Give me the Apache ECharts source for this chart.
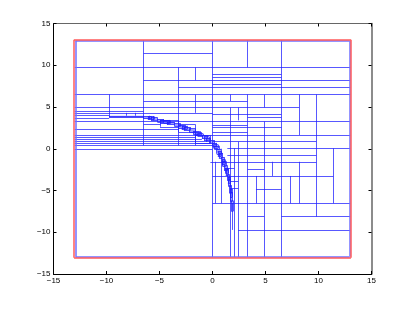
<!DOCTYPE html>
<html><head><meta charset="utf-8">
<script src="https://cdn.jsdelivr.net/npm/echarts@6/dist/echarts.min.js"></script>
<style>html,body{margin:0;padding:0;background:#fff}#c{width:411px;height:309px}</style>
</head><body><div id="c"></div>
<script>
// Axis ticks
const xTicks = [-15, -10, -5, 0, 5, 10, 15];
const yTicks = [-15, -10, -5, 0, 5, 10, 15];
// Outer bounding box (red) and the root cell (blue)
const outerBox = [-13.06, -13.06, 13.06, 13.06];
const rootCell = [-12.93, -12.93, 12.93, 12.93];
// Horizontal split lines: [y, x1, x2]
const hSegs = [
  [11.4, -6.5, 0], [9.75, -13, 13], [8.95, 0, 6.5], [8.55, 0, 6.5], [8.2, -6.5, 13],
  [7.74, 0, 6.5], [7.34, -3.2, 13], [6.5, -13, 13], [5.7, -6.5, 3.3], [4.95, -13, 8.18],
  [4.5, -13, -6.5], [4.3, -13, 0], [4.1, 0, 6.5], [4.0, -13, -9.75], [3.75, 3.3, 6.5],
  [3.6, -13, -9.75], [3.27, -13, 13], [2.9, -6.5, -4.9], [2.83, 0, 3.3], [2.55, 0, 6.5],
  [2.36, -13, -3.2], [2.03, 0, 3.3], [1.64, -13, 13], [1.36, -13, -1.6], [1.12, -13, -1.0],
  [0.88, -13, -0.5], [0.84, 0, 9.8], [0.65, -13, -0.2], [0.45, -13, 0], [0.05, 1.4, 13],
  [-0.07, -13, 0], [-0.75, 1.4, 9.8], [-1.56, -0.2, 9.8], [-2.47, 3.3, 4.88], [-3.26, 0, 11.4],
  [-4.86, 4.1, 6.5], [-6.53, 0, 13], [-8.13, 3.3, 4.88], [-8.13, 6.5, 13], [-9.72, 2.43, 13],
  [-3.95, 1.65, 2.43], [-4.75, 1.65, 2.43], [-2.3, 1.3, 2.06]
];
// Vertical split lines: [x, y1, y2]
const vSegs = [
  [-9.75, 6.5, 3.8], [-6.5, 13, 0.4], [-3.2, 9.75, 0.4], [-1.6, 9.75, 8.2], [-1.6, 6.5, 4.3],
  [-1.6, 2.1, 0.4], [0, 13, -13], [1.71, 6.5, 5.7], [1.71, 4.95, -13], [2.43, 4.95, 3.4],
  [2.43, 0.84, -13], [2.06, 0.05, -13], [1.87, -6.5, -9.72], [3.3, 13, 9.75], [3.3, 6.5, -13],
  [4.88, 6.5, 4.95], [4.88, 3.27, -13], [6.5, 13, -13], [8.18, 6.5, 1.64], [8.18, -1.56, -6.53],
  [9.8, 6.5, -8.13], [11.4, 0.05, -6.53], [5.68, -1.56, -3.26], [4.1, -3.26, -6.53],
  [7.37, -3.26, -6.53], [0.86, -1.56, -6.53], [0.3, -1.56, -6.53],
  [-8.1, 3.95, 4.3], [-7.3, 3.95, 4.3], [-6.0, 3.5, 3.95], [-5.6, 3.4, 3.9]
];
// Small cells along the dense staircase: [x1, y1, x2, y2]
const stairCells = [
  [-9.75, 3.75, -6.5, 3.95], [-6.5, 3.6, -5.8, 3.9], [-5.8, 3.4, -5.2, 3.75], [-5.2, 3.2, -4.6, 3.55],
  [-4.9, 3.0, -4.0, 3.4], [-4.3, 2.9, -3.6, 3.2], [-3.6, 2.7, -3.0, 3.0], [-3.2, 2.4, -2.6, 2.85],
  [-2.7, 2.2, -2.1, 2.6], [-2.2, 2.0, -1.6, 2.4], [-1.8, 1.7, -1.2, 2.1], [-1.4, 1.5, -0.9, 1.8],
  [-1.0, 1.2, -0.5, 1.6], [-0.6, 0.9, -0.2, 1.3], [-0.3, 0.6, 0.2, 1.0], [0, 0.3, 0.4, 0.7],
  [0.2, -0.1, 0.6, 0.35], [0.4, -0.6, 0.8, 0.0], [0.6, -1.1, 0.95, -0.5], [0.8, -1.6, 1.1, -1.0],
  [0.95, -2.1, 1.25, -1.5], [1.1, -2.6, 1.4, -2.0], [1.25, -3.2, 1.5, -2.5], [1.4, -3.8, 1.62, -3.1],
  [1.5, -4.5, 1.72, -3.7], [1.6, -5.3, 1.8, -4.4], [1.7, -6.3, 1.88, -5.2], [1.8, -7.5, 1.92, -6.2],
  [-6.1, 3.5, -5.5, 3.85], [-4.6, 3.1, -4.1, 3.45], [-2.9, 2.3, -2.4, 2.75], [-1.6, 1.6, -1.1, 2.0],
  [-0.8, 1.0, -0.35, 1.45], [0.1, 0.1, 0.5, 0.5], [0.5, -0.9, 0.85, -0.3], [0.9, -1.9, 1.2, -1.3],
  [1.2, -2.9, 1.45, -2.3], [1.45, -4.1, 1.68, -3.4], [1.65, -5.8, 1.85, -4.8]
];
// Lighter enclosing boxes near the staircase: [x1, y1, x2, y2]
const nearCells = [
  [-4.95, 2.63, -3.2, 3.43], [-3.2, 2.0, -1.6, 2.9], [-1.6, 0.65, -0.2, 1.6]
];

function rectEdges(r) {
  const [x1, y1, x2, y2] = r;
  return [
    {coords: [[x1, y1], [x2, y1]]}, {coords: [[x2, y1], [x2, y2]]},
    {coords: [[x2, y2], [x1, y2]]}, {coords: [[x1, y2], [x1, y1]]}
  ];
}
const blueData = [];
hSegs.forEach(([y, a, b]) => blueData.push({coords: [[a, y], [b, y]]}));
vSegs.forEach(([x, a, b]) => blueData.push({coords: [[x, a], [x, b]]}));
stairCells.concat(nearCells).forEach(r => rectEdges(r).forEach(e => blueData.push(e)));
const redData = rectEdges(outerBox);
const rootData = rectEdges(rootCell);

const lbl = v => String(v).replace('-', '\u2212');
const axisCommon = {
  type: 'value', min: -15, max: 15, interval: 5,
  splitLine: {show: false},
  axisLine: {show: true, onZero: false, lineStyle: {color: '#000', width: 1}},
  axisTick: {show: true, inside: true, length: 3, lineStyle: {color: '#000'}},
};
const chart = echarts.init(document.getElementById('c'), null, {renderer: 'canvas'});
chart.setOption({
  animation: false,
  backgroundColor: '#fff',
  grid: {left: 53.5, right: 39.5, top: 23.5, bottom: 35, containLabel: false},
  xAxis: [
    Object.assign({}, axisCommon, {position: 'bottom',
      axisLabel: {show: true, fontSize: 8, color: '#000', fontFamily: 'Liberation Sans', margin: 3, formatter: lbl}}),
    Object.assign({}, axisCommon, {position: 'top', axisLabel: {show: false},
      axisLine: {show: true, onZero: false, lineStyle: {color: '#666', width: 1}}})
  ],
  yAxis: [
    Object.assign({}, axisCommon, {position: 'left',
      axisLabel: {show: true, fontSize: 8, color: '#000', fontFamily: 'Liberation Sans', margin: 3, formatter: lbl}}),
    Object.assign({}, axisCommon, {position: 'right', axisLabel: {show: false},
      axisLine: {show: true, onZero: false, lineStyle: {color: '#666', width: 1.5}}})
  ],
  series: [
    {type: 'custom', coordinateSystem: 'cartesian2d', xAxisIndex: 0, yAxisIndex: 0, silent: true, z: 1,
      data: stairCells,
      renderItem: (params, api) => {
        const p1 = api.coord([api.value(0), api.value(1)]);
        const p2 = api.coord([api.value(2), api.value(3)]);
        return {type: 'rect', shape: {x: Math.min(p1[0], p2[0]), y: Math.min(p1[1], p2[1]),
          width: Math.abs(p2[0] - p1[0]), height: Math.abs(p2[1] - p1[1])},
          style: {fill: 'rgba(40,40,255,0.45)'}};
      }},
    {type: 'lines', coordinateSystem: 'cartesian2d', xAxisIndex: 0, yAxisIndex: 0, silent: true,
      lineStyle: {color: '#2020ff', width: 1, opacity: 0.75}, data: blueData, z: 3},
    {type: 'lines', coordinateSystem: 'cartesian2d', xAxisIndex: 0, yAxisIndex: 0, silent: true,
      lineStyle: {color: '#7070ff', width: 1.5, opacity: 1}, data: rootData, z: 3},
    {type: 'lines', coordinateSystem: 'cartesian2d', xAxisIndex: 0, yAxisIndex: 0, silent: true,
      lineStyle: {color: '#ff5a5a', width: 1.5, opacity: 1}, data: redData, z: 4}
  ]
});
</script></body></html>
